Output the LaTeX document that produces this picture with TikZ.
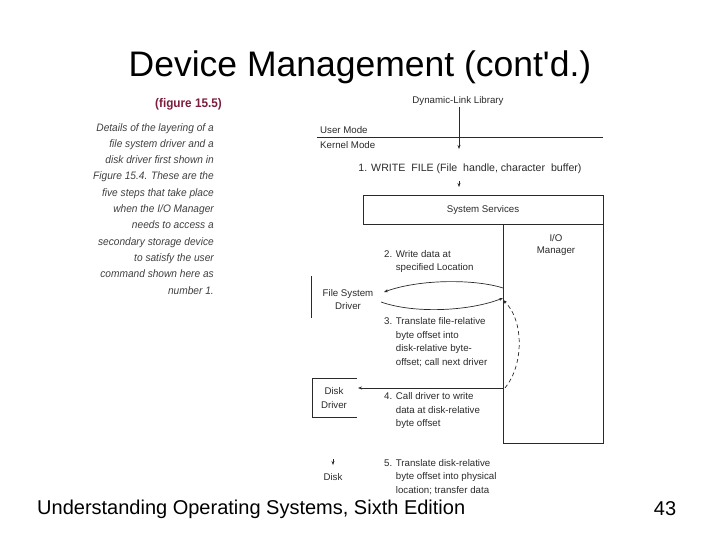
\documentclass[tikz,border=0pt]{standalone}
\usepackage{fontspec}
\setmainfont{Liberation Sans}
\newfontfamily\figfont{Liberation Sans}
\newfontfamily\capfont[FakeStretch=0.94,ItalicFont={Liberation Sans Italic}]{Liberation Sans}
\usetikzlibrary{arrows.meta}
\definecolor{maroon}{HTML}{7A1E3C}
\definecolor{figgray}{HTML}{2A2A2A}
\tikzset{
  ftext/.style={font=\figfont\fontsize{9.7}{13.5}\selectfont, text=figgray, inner sep=0pt},
  ftextl/.style={ftext, anchor=west, align=left},
  captext/.style={font=\capfont\itshape\fontsize{10.8}{16.3}\selectfont, text=figgray!90, inner sep=0pt, anchor=north east, align=right},
  fline/.style={draw=figgray, line width=0.7pt},
  farrow/.style={fline, -{Stealth[length=4pt,width=3pt]}},
}
\begin{document}
\begin{tikzpicture}[x=1pt,y=-1pt]
\useasboundingbox (0,0) rectangle (720,540);
% title and footer
\node[font=\fontsize{35.5}{38}\selectfont, inner sep=0pt] (title) at (360,67) {Device Management (cont\textquotesingle d.)};
\node[font=\fontsize{20}{22}\selectfont, inner sep=0pt, anchor=west] (foot) at (37,509) {Understanding Operating Systems, Sixth Edition};
\node[font=\fontsize{20}{22}\selectfont, inner sep=0pt] (pnum) at (665,509) {43};
% caption
\node[font=\capfont\bfseries\fontsize{12.5}{14}\selectfont, text=maroon, inner sep=0pt, anchor=east] (fig) at (222,104) {(figure 15.5)};
\node[captext] (cap) at (214,123) {Details of the layering of a\\ file system driver and a\\ disk driver first shown in\\ Figure 15.4. These are the\\ five steps that take place\\ when the I/O Manager\\ needs to access a\\ secondary storage device\\ to satisfy the user\\ command shown here as\\ number 1.};
% top part
\node[ftext] (dll) at (458,101) {Dynamic-Link Library};
\coordinate (ml) at (317,137);
\coordinate (mr) at (603,137);
\draw[fline] (ml) -- (mr);
\node[ftextl] (um) at (320,130) {User Mode};
\node[ftextl] (km) at (320,145) {Kernel Mode};
\coordinate (a1) at (459,149);
\draw[farrow] (459,107) -- (a1);
\node[ftext, font=\figfont\fontsize{10.6}{12}\selectfont] (write) at (470,169) {1. WRITE\hspace{3pt} FILE (File\hspace{3pt} handle, character\hspace{3pt} buffer)};
\coordinate (a2) at (459,187);
\draw[farrow] (459,181) -- (a2);
% system services and I/O manager
\node[fline, minimum width=240pt, minimum height=29pt, inner sep=0pt, anchor=north west] (sys) at (363,195) {};
\node[ftext] (syst) at (483,210) {System Services};
\node[fline, minimum width=100pt, minimum height=219pt, inner sep=0pt, anchor=north west] (io) at (503,224) {};
\node[ftext, align=center, font=\figfont\fontsize{9.7}{12}\selectfont] (iot) at (556,245) {I/O\\ Manager};
% step 2
\node[ftextl] (s2) at (384,261.5) {2. Write data at\\ \hphantom{2. }specified Location};
\coordinate (io2) at (503,288);
\coordinate (fs2) at (384,292);
\draw[farrow] (io2) .. controls (475,279) and (420,279) .. (fs2);
% file system driver
\coordinate (fst) at (311,276);
\coordinate (fsb) at (311,318);
\draw[fline] (fst) -- (fsb);
\node[ftext, align=center] (fsd) at (348,299.5) {File System\\ Driver};
\coordinate (fs3) at (381,302);
\coordinate (io3) at (503,298);
\draw[farrow] (fs3) .. controls (415,314) and (470,311) .. (io3);
\node[ftextl] (s3) at (384,342) {3. Translate file-relative\\ \hphantom{3. }byte offset into\\ \hphantom{3. }disk-relative byte-\\ \hphantom{3. }offset; call next driver};
% dashed return
\coordinate (io4) at (505,388);
\coordinate (io5) at (503,300);
\draw[farrow, dashed, dash pattern=on 4pt off 3pt] (io4) .. controls (524,365) and (524,320) .. (io5);
% disk driver
\draw[fline] (357,378) -- (312,378) -- (312,417) -- (357,417);
\node[ftext, align=center] (dd) at (334,398) {Disk\\ Driver};
\coordinate (dd4) at (358,388);
\draw[farrow] (503,388) -- (dd4);
\node[ftextl] (s4) at (384,410.5) {4. Call driver to write\\ \hphantom{4. }data at disk-relative\\ \hphantom{4. }byte offset};
% disk
\coordinate (dk) at (333,465);
\draw[farrow] (333,459) -- (dk);
\node[ftext] (disk) at (333,477) {Disk};
\node[ftextl] (s5) at (384,477) {5. Translate disk-relative\\ \hphantom{5. }byte offset into physical\\ \hphantom{5. }location; transfer data};
\end{tikzpicture}
\end{document}
